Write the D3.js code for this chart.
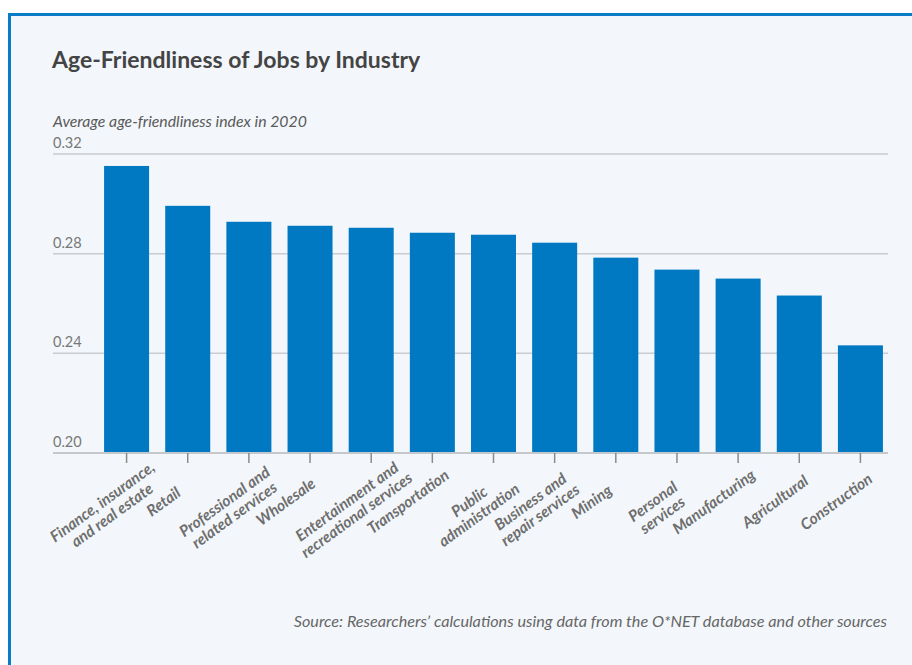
<!DOCTYPE html>
<html>
<head>
<meta charset="utf-8">
<script src="https://cdn.jsdelivr.net/npm/d3@7"></script>
<style>
  html, body { margin: 0; padding: 0; background: #ffffff; }
  svg { display: block; }
</style>
</head>
<body>
<svg id="chart" width="912" height="665"></svg>
<script>
const categories = [
  ["Finance, insurance,", "and real estate"],
  ["Retail"],
  ["Professional and", "related services"],
  ["Wholesale"],
  ["Entertainment and", "recreational services"],
  ["Transportation"],
  ["Public", "administration"],
  ["Business and", "repair services"],
  ["Mining"],
  ["Personal", "services"],
  ["Manufacturing"],
  ["Agricultural"],
  ["Construction"]
];
const values = [0.3152, 0.2992, 0.2928, 0.2912, 0.2904, 0.2884, 0.2876, 0.2844, 0.2784, 0.2736, 0.2700, 0.2632, 0.2432];
const yTicks = [0.20, 0.24, 0.28, 0.32];

const title = "Age-Friendliness of Jobs by Industry";
const subtitle = "Average age-friendliness index in 2020";
const source = "Source: Researchers\u2019 calculations using data from the O*NET database and other sources";

const svg = d3.select("#chart");
const FONT = "Lato, 'Open Sans', sans-serif";

// panel
svg.append("rect")
  .attr("x", 9.5).attr("y", 14.5)
  .attr("width", 1000).attr("height", 1000)
  .attr("fill", "#f3f7fb")
  .attr("stroke", "#0a7bc6")
  .attr("stroke-width", 3);

svg.append("text")
  .attr("x", 52).attr("y", 68)
  .attr("font-family", FONT)
  .attr("font-weight", 700)
  .attr("font-size", 23)
  .attr("fill", "#444444")
  .text(title);

svg.append("text")
  .attr("x", 53).attr("y", 127)
  .attr("font-family", FONT)
  .attr("font-style", "italic")
  .attr("font-size", 15.8)
  .attr("fill", "#5a5a5a")
  .text(subtitle);

const x = d3.scaleBand()
  .domain(d3.range(categories.length))
  .range([96, 891])
  .paddingInner(0.264)
  .paddingOuter(0.132);

const y = d3.scaleLinear()
  .domain([0.20, 0.32])
  .range([453, 154]);

const gridLeft = 53, gridRight = 888;

// gridlines
const grid = svg.append("g");
grid.selectAll("line").data(yTicks).join("line")
  .attr("x1", gridLeft).attr("x2", gridRight)
  .attr("y1", d => y(d)).attr("y2", d => y(d))
  .attr("stroke", "#c9cdd2")
  .attr("stroke-width", 1.5);

grid.selectAll("text").data(yTicks).join("text")
  .attr("x", gridLeft).attr("y", d => y(d) - 6)
  .attr("font-family", FONT)
  .attr("font-size", 14.5)
  .attr("fill", "#777777")
  .text(d => d3.format(".2f")(d));

// bars
svg.append("g").selectAll("rect").data(values).join("rect")
  .attr("x", (d, i) => x(i))
  .attr("width", x.bandwidth())
  .attr("y", d => y(d))
  .attr("height", d => y(0.20) - y(d))
  .attr("fill", "#0079c2");

// baseline
svg.append("line")
  .attr("x1", gridLeft).attr("x2", gridRight)
  .attr("y1", y(0.20)).attr("y2", y(0.20))
  .attr("stroke", "#c4c8cd").attr("stroke-width", 2);

// ticks
svg.append("g").selectAll("line").data(categories).join("line")
  .attr("x1", (d, i) => x(i) + x.bandwidth() / 2)
  .attr("x2", (d, i) => x(i) + x.bandwidth() / 2)
  .attr("y1", y(0.20)).attr("y2", y(0.20) + 10)
  .attr("stroke", "#8a8a8a").attr("stroke-width", 1.5);

// x labels
const lab = svg.append("g").selectAll("text").data(categories).join("text")
  .attr("transform", (d, i) => `translate(${x(i) + x.bandwidth() / 2 - 24},${502}) rotate(-36)`)
  .attr("text-anchor", "middle")
  .attr("font-family", FONT)
  .attr("font-style", "italic")
  .attr("font-weight", 700)
  .attr("font-size", 15.5)
  .attr("fill", "#6e6e6e");
lab.selectAll("tspan").data(d => d).join("tspan")
  .attr("x", 0)
  .attr("y", (d, j) => 5 + j * 16.5)
  .text(d => d);

svg.append("text")
  .attr("x", 887).attr("y", 627)
  .attr("text-anchor", "end")
  .attr("font-family", FONT)
  .attr("font-style", "italic")
  .attr("font-size", 16.2)
  .attr("fill", "#666666")
  .text(source);
</script>
</body>
</html>
